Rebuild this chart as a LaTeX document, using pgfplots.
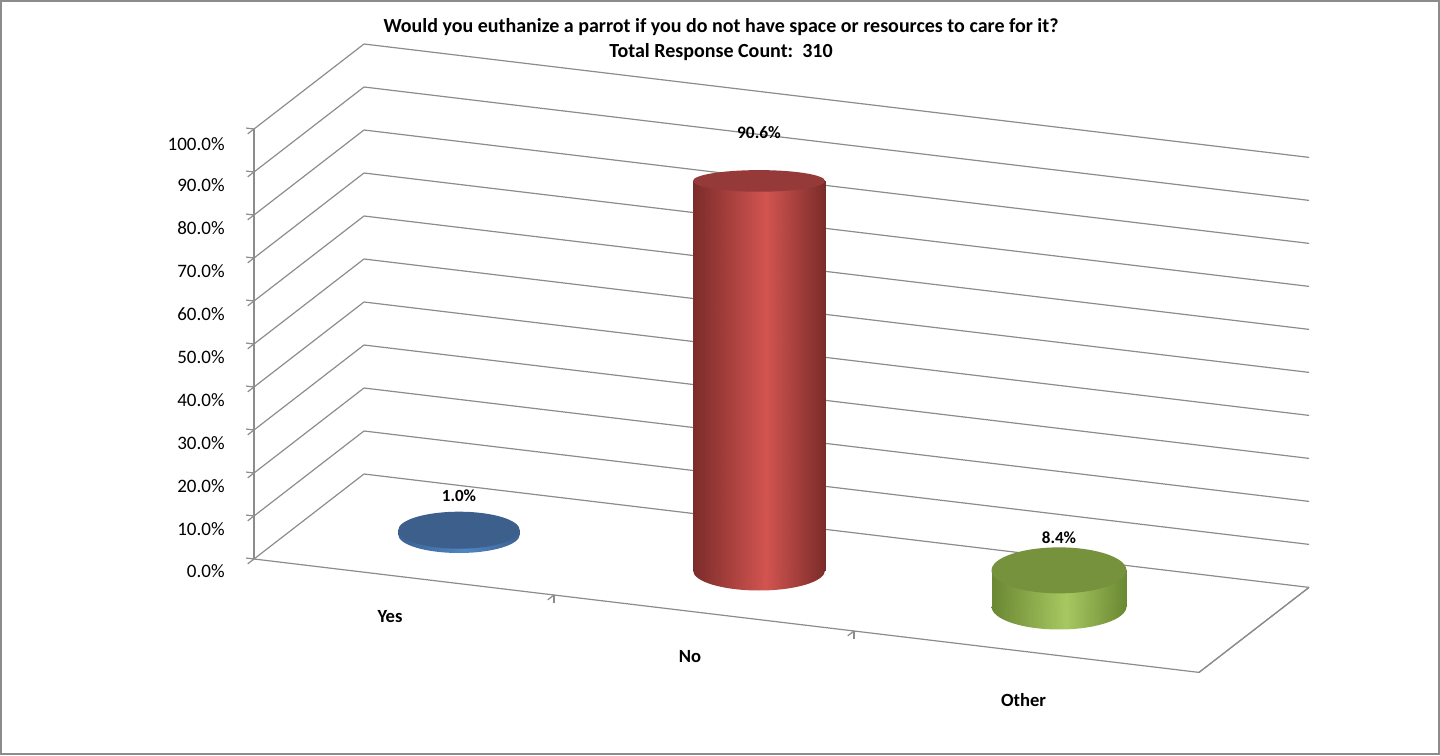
\documentclass[border=0pt]{standalone}
\usepackage{fontspec}
\setmainfont{Carlito}
\usepackage{pgfplots}
\pgfplotsset{compat=1.18}
\definecolor{bluT}{HTML}{3D5F8C}
\definecolor{bluD}{HTML}{3A6192}
\definecolor{bluL}{HTML}{5086C4}
\definecolor{redT}{HTML}{953A38}
\definecolor{redD}{HTML}{7B2C2A}
\definecolor{redL}{HTML}{D25450}
\definecolor{grnT}{HTML}{76923C}
\definecolor{grnD}{HTML}{6A8732}
\definecolor{grnL}{HTML}{A6C861}
\definecolor{gridc}{HTML}{8C8C8C}
\pgfdeclarehorizontalshading{blush}{100bp}{color(0bp)=(bluD); color(25bp)=(bluD); color(52.5bp)=(bluL); color(75bp)=(bluD); color(100bp)=(bluD)}
\pgfdeclarehorizontalshading{redsh}{100bp}{color(0bp)=(redD); color(25bp)=(redD); color(52.5bp)=(redL); color(75bp)=(redD); color(100bp)=(redD)}
\pgfdeclarehorizontalshading{grnsh}{100bp}{color(0bp)=(grnD); color(25bp)=(grnD); color(52.5bp)=(grnL); color(75bp)=(grnD); color(100bp)=(grnD)}
% lower half ellipse, shaded: #1 = shading, #2 = x radius, #3 = y radius
\newcommand\halfell[3]{%
  \pgfpathmoveto{\pgfqpoint{-#2}{0pt}}%
  \pgfpatharc{180}{360}{#2 and #3}%
  \pgfpathclose
  \pgfshadepath{#1}{0}\pgfusepath{discard}}
\newcommand\fullell[3]{%
  \pgfpathellipse{\pgfpointorigin}{\pgfqpoint{#2}{0pt}}{\pgfqpoint{0pt}{#3}}%
  \pgfsetfillcolor{#1}\pgfusepath{fill}}
\pgfdeclareplotmark{yesbot}{\halfell{blush}{30.4pt}{9.25pt}}
\pgfdeclareplotmark{yestop}{\fullell{bluT}{30.4pt}{9.25pt}}
\pgfdeclareplotmark{nobot}{\halfell{redsh}{33pt}{10pt}}
\pgfdeclareplotmark{notop}{\fullell{redT}{33pt}{5.4pt}}
\pgfdeclareplotmark{othbot}{\halfell{grnsh}{33.75pt}{11.5pt}}
\pgfdeclareplotmark{othtop}{\fullell{grnT}{33.75pt}{11.5pt}}
\begin{document}
\begin{tikzpicture}
\path[use as bounding box] (-127pt,-98pt) rectangle (593pt,279.5pt);
\draw[gridc, line width=0.8pt] (-126.4pt,-97.4pt) rectangle (592.4pt,278.9pt);
\node[font=\bfseries\fontsize{10}{12}\selectfont] at (233.5pt,266pt) {Would you euthanize a parrot if you do not have space or resources to care for it?};
\node[font=\bfseries\fontsize{10}{12}\selectfont] at (233.5pt,253.5pt) {Total Response Count:\ \ 310};
\begin{axis}[
  anchor=origin, at={(0pt,0pt)},
  x={(150pt,-18pt)}, y={(55pt,42.5pt)}, z={(0pt,2.15pt)},
  xmin=0, xmax=3.15, ymin=0, ymax=1, zmin=0, zmax=100,
  axis lines*=left,
  axis line style={gridc, line width=0.6pt},
  clip=false,
  xtick={1,2}, xticklabels={},
  ytick=\empty,
  ztick={0,10,...,100},
  zticklabel={\pgfmathprintnumber[fixed,fixed zerofill,precision=1]{\tick}\%},
  /pgf/number format/assume math mode=true,
  ticklabel style={font=\fontsize{9.5}{11}\selectfont},
  zticklabel style={xshift=-8pt},
  tick align=outside, major tick length=4pt,
  tick style={gridc, line width=0.6pt},
  zmajorgrids=true, xmajorgrids=false, ymajorgrids=false,
  major grid style={gridc, line width=0.6pt},
  point meta min=0, point meta max=1,
]
% right edge of floor
\addplot3[gridc, line width=0.6pt] coordinates {(3.15,0,0) (3.15,1,0)};
% ---------- Yes: 1.0 %
\addplot3[only marks, mark=yesbot, point meta=0] coordinates {(0.5,0.5,0)};
\addplot3[patch, patch type=rectangle, shader=interp, point meta=explicit,
  colormap={bm}{color=(bluD) color=(bluL)}] coordinates {
  (0.32457,0.42570,0) [0] (0.51754,0.50743,0) [1] (0.51754,0.50743,1.0) [1] (0.32457,0.42570,1.0) [0]
  (0.51754,0.50743,0) [1] (0.67543,0.57430,0) [0] (0.67543,0.57430,1.0) [0] (0.51754,0.50743,1.0) [1]
};
\addplot3[only marks, mark=yestop, point meta=z,
  nodes near coords={\pgfmathprintnumber[fixed,fixed zerofill,precision=1]{\pgfplotspointmeta}\%},
  every node near coord/.append style={font=\bfseries\fontsize{8.5}{10}\selectfont, text=black, anchor=center, yshift=17pt}]
  coordinates {(0.5,0.5,1.0)};
% ---------- No: 90.6 %
\addplot3[only marks, mark=nobot, point meta=0] coordinates {(1.5,0.5,0)};
\addplot3[patch, patch type=rectangle, shader=interp, point meta=explicit,
  colormap={rm}{color=(redD) color=(redL)}] coordinates {
  (1.30957,0.41935,0) [0] (1.51904,0.50807,0) [1] (1.51904,0.50807,90.6) [1] (1.30957,0.41935,90.6) [0]
  (1.51904,0.50807,0) [1] (1.69043,0.58065,0) [0] (1.69043,0.58065,90.6) [0] (1.51904,0.50807,90.6) [1]
};
\addplot3[only marks, mark=notop, point meta=z,
  nodes near coords={\pgfmathprintnumber[fixed,fixed zerofill,precision=1]{\pgfplotspointmeta}\%},
  every node near coord/.append style={font=\bfseries\fontsize{8.7}{10}\selectfont, text=black, anchor=center, yshift=24pt}]
  coordinates {(1.5,0.5,90.6)};
% ---------- Other: 8.4 %
\addplot3[only marks, mark=othbot, point meta=0] coordinates {(2.5,0.5,0)};
\addplot3[patch, patch type=rectangle, shader=interp, point meta=explicit,
  colormap={gm}{color=(grnD) color=(grnL)}] coordinates {
  (2.30524,0.41751,0) [0] (2.51948,0.50825,0) [1] (2.51948,0.50825,8.4) [1] (2.30524,0.41751,8.4) [0]
  (2.51948,0.50825,0) [1] (2.69476,0.58249,0) [0] (2.69476,0.58249,8.4) [0] (2.51948,0.50825,8.4) [1]
};
\addplot3[only marks, mark=othtop, point meta=z,
  nodes near coords={\pgfmathprintnumber[fixed,fixed zerofill,precision=1]{\pgfplotspointmeta}\%},
  every node near coord/.append style={font=\bfseries\fontsize{8.5}{10}\selectfont, text=black, anchor=center, yshift=16.5pt}]
  coordinates {(2.5,0.5,8.4)};
% category labels
\node[font=\bfseries\fontsize{9.3}{11}\selectfont, xshift=-7pt, yshift=-20pt] at (axis cs:0.5,0,0) {Yes};
\node[font=\bfseries\fontsize{9.3}{11}\selectfont, xshift=-7pt, yshift=-22pt] at (axis cs:1.5,0,0) {No};
\node[font=\bfseries\fontsize{9.3}{11}\selectfont, xshift=9.75pt, yshift=-25.75pt] at (axis cs:2.5,0,0) {Other};
\end{axis}
\end{tikzpicture}
\end{document}
